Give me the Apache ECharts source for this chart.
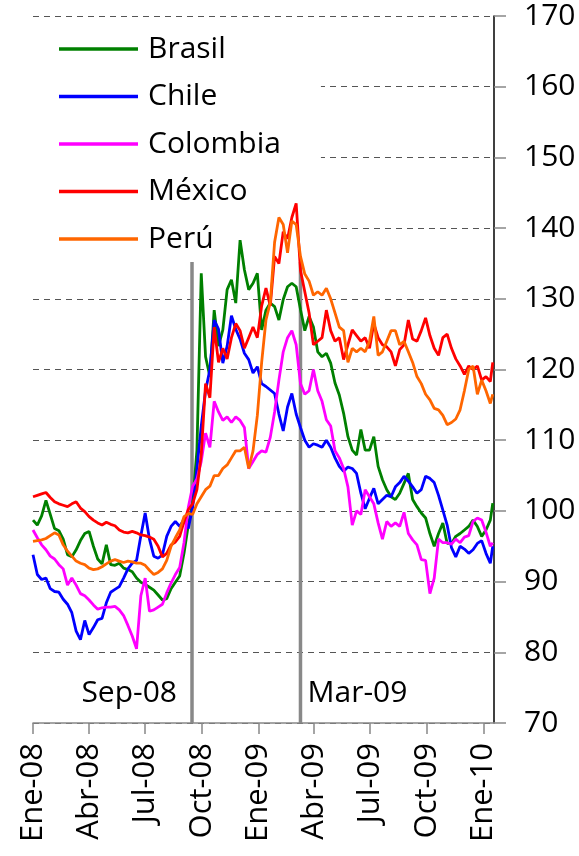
<!DOCTYPE html>
<html>
<head>
    <meta charset="UTF-8">
    <title>Tipo de cambio</title>
    <script src="https://cdn.jsdelivr.net/npm/echarts@6/dist/echarts.min.js"></script>
    <style>
        html, body { margin: 0; padding: 0; background: #fff; }
        #chart { width: 579px; height: 856px; }
    </style>
</head>
<body>
<div id="chart"></div>
<script type="text/javascript">
    // días desde 01-ene-2008, una lectura por semana
    var days = [];
    for (var k = 0; k < 107; k++) days.push(k * 7);
    days.push(746);

    var tickDays = [0, 91, 182, 274, 366, 456, 547, 639, 731];
    var tickLabels = ["Ene-08", "Abr-08", "Jul-08", "Oct-08", "Ene-09", "Abr-09", "Jul-09", "Oct-09", "Ene-10"];

    var eventDays = [258, 434];
    var eventLabels = ["Sep-08", "Mar-09"];
    var eventTop = 135.2;

    var brasil = [98.7, 98.0, 99.3, 101.5, 99.5, 97.5, 97.2, 96.0, 93.8, 93.5, 94.5, 95.8, 96.8, 97.1, 95.0, 93.2, 92.5, 95.2, 92.4, 92.3,
        92.6, 91.9, 91.7, 91.4, 90.5, 89.9, 89.6, 89.2, 88.8, 88.1, 87.4, 87.6, 89.0, 89.9, 90.8, 94.0, 98.0, 101.0,
        108.6, 133.6, 121.8, 119.0, 128.4, 123.3, 125.6, 131.3, 132.7, 129.4, 138.3, 134.1, 131.3, 132.2, 133.6, 125.6, 128.4, 129.4,
        128.9, 127.0, 129.9, 131.7, 132.2, 131.7, 128.5, 125.5, 127.5, 126.0, 122.5,
        121.8, 122.3, 120.9, 118.1, 116.4, 113.8, 110.5, 108.6, 107.9, 111.5, 108.6, 108.6, 110.5, 106.3, 104.4, 103.0, 102.0, 101.6,
        102.5, 103.9, 105.3, 101.6, 100.6, 99.7, 99.0, 96.8, 95.0, 96.8, 98.3, 95.4, 95.4, 96.4, 96.8, 97.3, 97.8, 98.7, 97.8, 96.4,
        97.3, 98.7, 101.1];

    var chile = [93.8, 91.0, 90.3, 90.5, 89.0, 88.6, 88.5, 87.5, 86.8, 85.6, 83.0, 81.8, 84.5, 82.5, 83.5, 84.6, 84.8, 87.0, 88.5, 88.9,
        89.3, 90.5, 91.8, 92.6, 93.0, 96.5, 99.7, 96.0, 93.6, 93.3, 93.8, 96.4, 97.8, 98.5, 97.8, 98.8, 97.5, 100.5,
        106.0, 112.0, 117.0, 120.0, 127.0, 125.7, 120.9, 123.3, 127.6, 125.7, 124.3, 122.3, 121.4, 119.5, 120.4, 118.0, 117.6, 117.1,
        116.6, 113.7, 111.3, 114.7, 116.6, 113.7, 111.8, 110.0, 109.0, 109.5, 109.3,
        109.0, 110.0, 109.0, 107.5, 106.3, 105.6, 106.2, 106.0, 105.3, 102.5, 100.3, 101.8, 103.2, 101.0, 101.6, 102.2, 102.0, 103.4,
        104.0, 104.9, 104.2, 103.4, 102.5, 103.0, 104.9, 104.6, 104.0, 102.2, 100.1, 98.0, 94.8, 93.5, 95.0, 94.6, 94.0, 94.5, 95.4,
        95.8, 94.0, 92.6, 95.0];

    var colombia = [97.3, 96.2, 95.2, 94.5, 93.6, 93.2, 92.4, 91.8, 89.5, 90.5, 89.5, 88.3, 88.0, 87.4, 86.7, 86.1, 86.3, 86.4, 86.4, 86.5,
        86.0, 85.2, 83.8, 82.3, 80.5, 88.0, 90.5, 85.8, 86.0, 86.4, 86.8, 88.4, 89.8, 91.0, 92.0, 95.5, 100.5, 103.5,
        104.5, 107.0, 111.0, 109.0, 115.5, 114.0, 112.8, 113.3, 112.5, 113.3, 112.8, 111.8, 106.0, 107.0, 108.0, 108.5, 108.3, 110.4,
        114.0, 118.5, 122.5, 124.5, 125.5, 123.5, 118.0,
        116.5, 117.0, 120.0, 117.0, 115.5, 112.9, 112.0, 108.5, 107.5, 106.0, 103.4, 98.0, 100.0, 99.5, 103.0, 102.0, 101.0, 98.3,
        96.0, 98.5, 97.8, 98.3, 97.8, 99.8, 96.8, 95.9, 95.2, 93.1, 93.0, 88.3, 90.5, 96.0, 95.5, 95.5, 95.3, 96.0, 95.5, 96.3, 96.5,
        98.5, 99.0, 98.7, 97.0, 95.0, 95.5];

    var mexico = [102.0, 102.2, 102.4, 102.6, 101.9, 101.3, 101.0, 100.8, 100.6, 101.0, 101.3, 100.4, 99.9, 99.2, 98.7, 98.3, 98.0, 98.4,
        98.1, 97.9, 97.3, 97.0, 96.9, 97.1, 96.9, 96.6, 96.5, 96.3, 96.0, 95.0, 93.5, 94.0, 95.2, 95.6, 96.4, 98.5, 100.2, 101.0,
        103.0, 108.0, 118.0, 116.0, 126.0, 121.0, 123.0, 121.5, 124.5, 126.5, 125.5, 123.0, 124.5, 126.0, 124.5, 129.0, 131.5, 129.0,
        136.0, 135.0, 139.5, 138.5, 141.5, 143.5,
        134.0, 131.0, 128.0, 123.5, 124.0, 124.5, 128.4, 125.5, 124.0, 124.5, 121.4, 123.5, 125.6, 124.8, 124.0, 124.5, 123.0, 126.5,
        124.5, 123.5, 123.2, 122.5, 120.5, 122.8, 123.5, 127.0, 124.3, 124.0, 125.5, 127.3, 124.8, 123.0, 122.0, 124.5, 125.0, 123.0,
        121.5, 120.5, 119.3, 120.5, 120.0, 120.5, 118.5, 119.0, 118.3, 121.0];

    var peru = [95.7, 95.8, 95.9, 96.1, 96.5, 96.9, 96.6, 95.2, 94.3, 93.6, 92.9, 92.6, 92.4, 91.9, 91.7, 91.8, 92.1, 92.5, 92.9, 93.1,
        92.9, 92.7, 92.9, 92.8, 92.6, 92.6, 92.3, 91.6, 91.0, 91.3, 91.8, 93.0, 95.0, 96.2, 97.3, 99.2, 99.6, 99.5,
        101.0, 102.0, 103.0, 103.5, 105.0, 105.0, 106.0, 106.5, 107.5, 108.5, 108.5, 109.0, 106.0, 108.5, 113.5, 121.0, 127.0, 129.5,
        138.0, 141.5, 140.5, 136.5, 141.0, 140.5, 136.0, 133.5, 132.5,
        130.5, 131.0, 130.5, 131.5, 130.0, 128.0, 126.0, 125.5, 121.0, 123.0, 122.5, 123.0, 122.5, 124.0, 127.5, 122.0, 122.5, 124.0,
        125.5, 125.5, 123.5, 124.0, 122.5, 121.0, 119.0, 118.0, 116.5, 115.7, 114.5, 114.3, 113.5, 112.2, 112.5, 113.0, 114.3, 117.0,
        120.0, 120.5, 116.5, 118.5, 117.0, 115.2, 116.5];

    var names = ["Brasil", "Chile", "Colombia", "México", "Perú"];
    var colors = ["#008000", "#0000ff", "#ff00ff", "#ff0000", "#ff6600"];
    var values = [brasil, chile, colombia, mexico, peru];

    var font = "'Open Sans', 'Noto Sans', sans-serif";

    function pairs(vals) {
        return vals.map(function (v, i) { return [days[i], v]; });
    }

    var series = [];
    for (var s = 0; s < names.length; s++) {
        series.push({
            name: names[s],
            type: 'line',
            data: pairs(values[s]),
            symbol: 'none',
            color: colors[s],
            lineStyle: { width: 2.8, color: colors[s] },
            z: 3
        });
    }
    // líneas verticales de los eventos
    for (var e = 0; e < eventDays.length; e++) {
        series.push({
            name: eventLabels[e],
            type: 'line',
            data: [[eventDays[e], 70], [eventDays[e], eventTop]],
            symbol: 'none',
            lineStyle: { width: 3.5, color: '#888888' },
            silent: true,
            z: 2
        });
    }

    var chart = echarts.init(document.getElementById("chart"));
    var option = {
        animation: false,
        backgroundColor: '#ffffff',
        grid: { left: 33, right: 85, top: 16, bottom: 133 },
        legend: {
            data: names.map(function (n, i) {
                return { name: n, icon: 'rect', itemStyle: { color: colors[i] } };
            }),
            orient: 'vertical',
            left: 33,
            top: 20,
            padding: [14, 40, 10, 26],
            backgroundColor: '#ffffff',
            itemWidth: 79,
            itemHeight: 3.5,
            itemGap: 17.5,
            z: 1,
            textStyle: { fontFamily: font, fontSize: 30, lineHeight: 30, color: '#000', padding: [0, 0, 0, 5] }
        },
        xAxis: {
            type: 'value',
            min: 0,
            max: 748,
            axisLine: { onZero: false, lineStyle: { color: '#888888', width: 1.5 } },
            axisTick: { show: true, length: 11, customValues: tickDays, lineStyle: { color: '#888888', width: 1.5 } },
            axisLabel: {
                customValues: tickDays,
                rotate: 90,
                margin: 20,
                fontFamily: font,
                fontSize: 31,
                color: '#000',
                formatter: function (v) {
                    var i = tickDays.indexOf(v);
                    return i >= 0 ? tickLabels[i] : '';
                }
            },
            splitLine: { show: false }
        },
        yAxis: {
            type: 'value',
            position: 'right',
            min: 70,
            max: 170,
            interval: 10,
            axisLine: { show: true, onZero: false, lineStyle: { color: '#000', width: 1.5 } },
            axisTick: { show: true, length: 12, lineStyle: { color: '#888888', width: 1.5 } },
            axisLabel: { margin: 30, fontFamily: font, fontSize: 30, color: '#000' },
            splitLine: { show: true, lineStyle: { color: '#555555', width: 1, type: [6, 5] } }
        },
        series: series
    };
    chart.setOption(option);

    // textos de los eventos, ubicados con la escala del gráfico
    var graphics = [];
    for (var g = 0; g < eventDays.length; g++) {
        var p = chart.convertToPixel({ gridIndex: 0 }, [eventDays[g], 74.2]);
        graphics.push({
            type: 'text',
            x: g === 0 ? p[0] - 15 : p[0] + 7,
            y: p[1],
            z: 5,
            style: {
                text: eventLabels[g],
                align: g === 0 ? 'right' : 'left',
                verticalAlign: 'middle',
                fontFamily: font,
                fontSize: 30,
                fill: '#000'
            }
        });
    }
    chart.setOption({ graphic: graphics });
</script>
</body>
</html>
